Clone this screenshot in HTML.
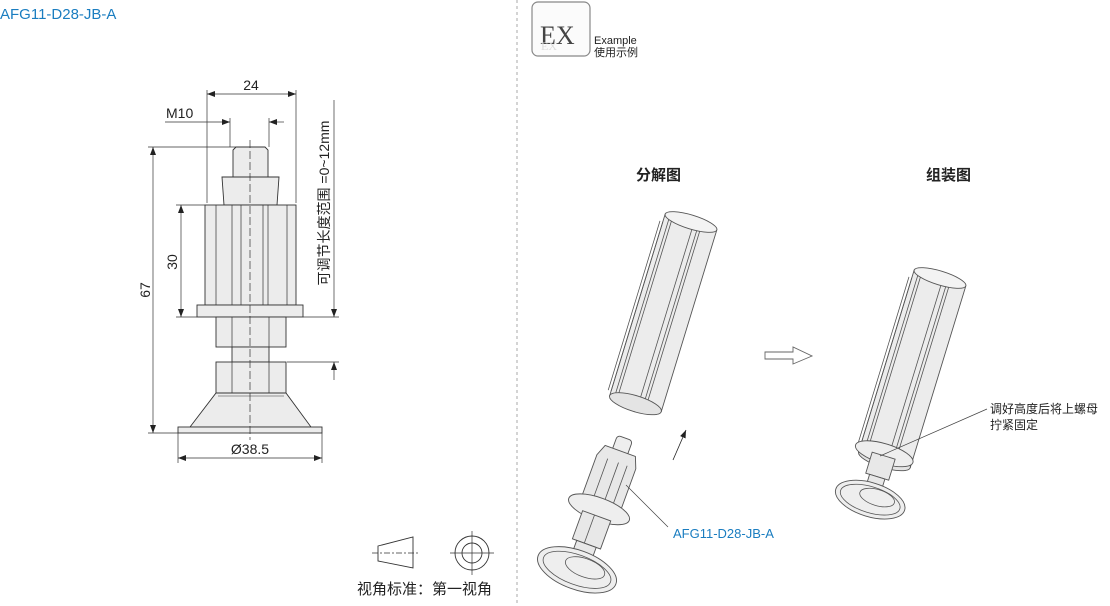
<!DOCTYPE html>
<html><head><meta charset="utf-8"><style>
html,body{margin:0;padding:0;background:#fff;}
svg{display:block;font-family:"Liberation Sans","Noto Sans CJK SC",sans-serif;}
</style></head><body>
<svg width="1110" height="606" viewBox="0 0 1110 606" xmlns="http://www.w3.org/2000/svg">
<defs>
<marker id="a" markerWidth="8" markerHeight="6" refX="8" refY="3" orient="auto-start-reverse" markerUnits="userSpaceOnUse"><path d="M0,0 L8,3 L0,6 z" fill="#222"/></marker>
<g id="tube">
  <rect x="-27" y="0" width="54" height="190" fill="#ececec" stroke="#555" stroke-width="0.9"/>
  <ellipse cx="0" cy="0" rx="27" ry="7" fill="#f3f3f3" stroke="#555" stroke-width="0.9"/>
  <path d="M-22 4V190 M-19 5V190 M3 7V190 M8 7V190 M11 6V190 M-30 8V185 M-27 8V185" stroke="#555" stroke-width="0.8" fill="none"/>
  <ellipse cx="0" cy="190" rx="27" ry="8" fill="#e4e4e4" stroke="#555" stroke-width="0.9"/>
</g>
<g id="adj">
  <rect x="-7" y="0" width="14" height="16" rx="3" fill="#eee" stroke="#555" stroke-width="0.8"/>
  <path d="M-14 12 H14 L18 22 V62 H-18 V22 Z" fill="#e8e8e8" stroke="#555" stroke-width="0.8"/>
  <path d="M-8 22V62 M2 22V62 M10 22V62" stroke="#555" stroke-width="0.7"/>
  <ellipse cx="0" cy="66" rx="28" ry="10" fill="#eee" stroke="#555" stroke-width="0.8"/>
  <rect x="-13" y="72" width="26" height="26" fill="#e8e8e8" stroke="#555" stroke-width="0.8"/>
  <path d="M-2 72V98" stroke="#555" stroke-width="0.7"/>
  <rect x="-9" y="98" width="18" height="16" fill="#e8e8e8" stroke="#555" stroke-width="0.8"/>
  <ellipse cx="0" cy="122" rx="36" ry="17" fill="#eee" stroke="#555" stroke-width="0.8"/>
  <ellipse cx="0" cy="122" rx="31" ry="13" fill="none" stroke="#555" stroke-width="0.7"/>
  <ellipse cx="6" cy="118" rx="18" ry="8" fill="none" stroke="#555" stroke-width="0.7"/>
</g>
</defs>

<text x="0" y="19" font-size="15" fill="#1a7dc0">AFG11-D28-JB-A</text>
<line x1="517" y1="0" x2="517" y2="606" stroke="#aaa" stroke-width="1" stroke-dasharray="3,3"/>

<g stroke="#333" stroke-width="0.9" fill="#ececec">
  <path d="M233 150 L236 147 H265 L268 150 V177 H233 Z"/>
  <path d="M222 177 H279 L277 205 H224 Z"/>
  <rect x="205" y="205" width="91" height="100"/>
  <path d="M216 205V305 M232 205V305 M241 205V305 M263 205V305 M268 205V305 M287 205V305" fill="none" stroke-width="0.7"/>
  <rect x="197" y="305" width="106" height="12"/>
  <rect x="216" y="317" width="70" height="30"/>
  <path d="M232 317V347 M269 317V347" fill="none" stroke-width="0.7"/>
  <rect x="232" y="347" width="37" height="15"/>
  <rect x="216" y="362" width="70" height="31"/>
  <path d="M232 362V393 M269 362V393" fill="none" stroke-width="0.7"/>
  <path d="M216 393 H286 L311 427 H190 Z"/>
  <path d="M218 396 H284" fill="none" stroke-width="0.6"/>
  <rect x="178" y="427" width="144" height="6"/>
</g>
<line x1="250" y1="140" x2="250" y2="440" stroke="#333" stroke-width="0.7" stroke-dasharray="8,3"/>
<g stroke="#333" stroke-width="0.7" fill="none">
  <path d="M207 90V203 M296 90V203"/>
  <line x1="207" y1="94" x2="296" y2="94" marker-start="url(#a)" marker-end="url(#a)"/>
  <path d="M230 118V147 M269 118V147"/>
  <line x1="165" y1="122" x2="230" y2="122" marker-end="url(#a)"/>
  <line x1="284" y1="122" x2="269" y2="122" marker-end="url(#a)"/>
  <path d="M148 147H236 M148 433H178"/>
  <line x1="153" y1="147" x2="153" y2="433" marker-start="url(#a)" marker-end="url(#a)"/>
  <path d="M176 205H205 M176 317H197"/>
  <line x1="181" y1="205" x2="181" y2="317" marker-start="url(#a)" marker-end="url(#a)"/>
  <path d="M178 433V463 M322 433V463"/>
  <line x1="178" y1="458" x2="322" y2="458" marker-start="url(#a)" marker-end="url(#a)"/>
  <path d="M303 317H339 M287 362H339"/>
  <line x1="334" y1="100" x2="334" y2="317" marker-end="url(#a)"/>
  <line x1="334" y1="380" x2="334" y2="362" marker-end="url(#a)"/>
</g>
<g font-size="14" fill="#222">
  <text x="251" y="90" text-anchor="middle">24</text>
  <text x="166" y="118">M10</text>
  <text x="150" y="290" transform="rotate(-90 150 290)" text-anchor="middle">67</text>
  <text x="177" y="262" transform="rotate(-90 177 262)" text-anchor="middle">30</text>
  <text x="250" y="454" text-anchor="middle">Ø38.5</text>
  <text x="329" y="203" transform="rotate(-90 329 203)" text-anchor="middle">可调节长度范围 =0~12mm</text>
</g>

<g stroke="#333" stroke-width="0.9" fill="none">
  <path d="M378 546 L413 537 V568 L378 561 Z"/>
  <line x1="372" y1="553" x2="420" y2="553" stroke-dasharray="6,2,2,2" stroke-width="0.7"/>
  <circle cx="472" cy="553" r="17"/>
  <circle cx="472" cy="553" r="10"/>
  <path d="M450 553H494 M472 531V575" stroke-width="0.7"/>
</g>
<text x="357" y="594" font-size="15" fill="#222">视角标准：第一视角</text>

<rect x="532" y="2" width="58" height="54" rx="6" fill="#fbfbfb" stroke="#888" stroke-width="1.2"/>
<text x="540" y="44" font-family="Liberation Serif,serif" font-size="26" fill="#444">EX</text>
<text x="541" y="50" font-family="Liberation Serif,serif" font-size="12" fill="#ddd">EX</text>
<text x="594" y="44" font-size="11" fill="#222">Example</text>
<text x="594" y="56" font-size="11" fill="#222">使用示例</text>

<text x="636" y="180" font-size="15" font-weight="bold" fill="#222">分解图</text>
<text x="926" y="180" font-size="15" font-weight="bold" fill="#222">组装图</text>

<!-- exploded -->
<use href="#tube" transform="translate(691,222) rotate(17)"/>
<use href="#adj" transform="translate(625,438) rotate(20) scale(1.15)"/>
<line x1="673" y1="460" x2="686" y2="430" stroke="#222" stroke-width="0.8" marker-end="url(#a)"/>
<line x1="626" y1="485" x2="668" y2="527" stroke="#444" stroke-width="0.7"/>
<text x="673" y="538" font-size="13" fill="#1a7dc0">AFG11-D28-JB-A</text>

<path d="M765 352 H793 V347 L812 356 L793 364 V359 H765 Z" fill="#fff" stroke="#666" stroke-width="0.9"/>

<!-- assembled -->
<use href="#tube" transform="translate(940,278) rotate(17)"/>
<g transform="translate(886,448) rotate(17)">
  <ellipse cx="0" cy="6" rx="30" ry="10" fill="#eee" stroke="#555" stroke-width="0.9"/>
  <rect x="-12" y="8" width="24" height="22" fill="#e8e8e8" stroke="#555" stroke-width="0.9"/>
  <rect x="-8" y="30" width="16" height="14" fill="#e8e8e8" stroke="#555" stroke-width="0.9"/>
  <ellipse cx="0" cy="54" rx="36" ry="17" fill="#eee" stroke="#555" stroke-width="0.9"/>
  <ellipse cx="0" cy="54" rx="31" ry="13" fill="none" stroke="#555" stroke-width="0.8"/>
  <ellipse cx="6" cy="50" rx="18" ry="8" fill="none" stroke="#555" stroke-width="0.8"/>
</g>
<line x1="880" y1="456" x2="987" y2="409" stroke="#444" stroke-width="0.7"/>
<text x="990" y="413" font-size="12" fill="#222">调好高度后将上螺母</text>
<text x="990" y="429" font-size="12" fill="#222">拧紧固定</text>
</svg>
</body></html>
